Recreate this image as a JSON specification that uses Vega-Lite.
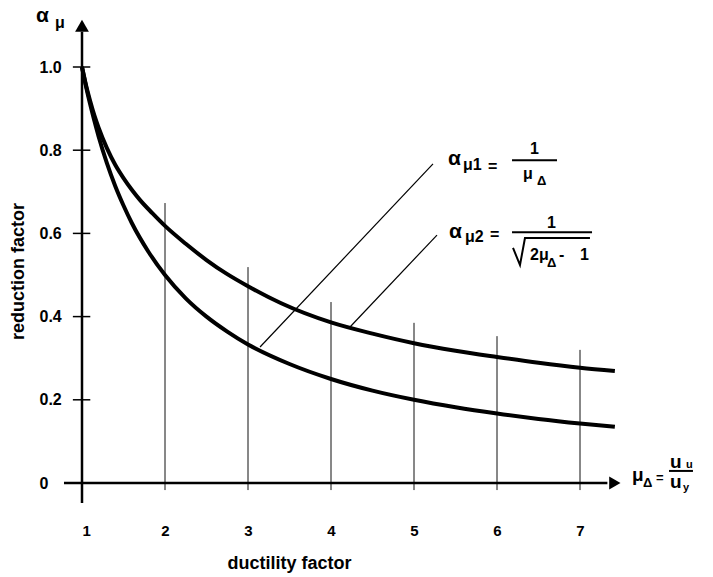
{
  "$schema": "https://vega.github.io/schema/vega-lite/v6.json",
  "width": 622.5,
  "height": 478.4,
  "autosize": {"type": "none"},
  "padding": {"left": 82, "top": 4.6, "right": 8.5, "bottom": 94},
  "background": "white",
  "config": {
    "view": {"stroke": null},
    "font": "Liberation Sans",
    "axis": {"domain": false, "grid": false, "ticks": false, "tickSize": 0, "labelColor": "black", "titleColor": "black"}
  },
  "datasets": {
    "curves": [
      {"s": "a1", "x": 1, "y": 1}, {"s": "a1", "x": 1.05, "y": 0.952}, {"s": "a1", "x": 1.1, "y": 0.909}, {"s": "a1", "x": 1.15, "y": 0.87},
      {"s": "a1", "x": 1.2, "y": 0.833}, {"s": "a1", "x": 1.3, "y": 0.769}, {"s": "a1", "x": 1.4, "y": 0.714}, {"s": "a1", "x": 1.5, "y": 0.667},
      {"s": "a1", "x": 1.6, "y": 0.625}, {"s": "a1", "x": 1.8, "y": 0.556}, {"s": "a1", "x": 2, "y": 0.5}, {"s": "a1", "x": 2.25, "y": 0.444},
      {"s": "a1", "x": 2.5, "y": 0.4}, {"s": "a1", "x": 2.75, "y": 0.364}, {"s": "a1", "x": 3, "y": 0.333}, {"s": "a1", "x": 3.5, "y": 0.286},
      {"s": "a1", "x": 4, "y": 0.25}, {"s": "a1", "x": 4.5, "y": 0.222}, {"s": "a1", "x": 5, "y": 0.2}, {"s": "a1", "x": 5.5, "y": 0.182},
      {"s": "a1", "x": 6, "y": 0.167}, {"s": "a1", "x": 6.5, "y": 0.154}, {"s": "a1", "x": 7, "y": 0.143}, {"s": "a1", "x": 7.42, "y": 0.135},
      {"s": "a2", "x": 1, "y": 1}, {"s": "a2", "x": 1.05, "y": 0.955}, {"s": "a2", "x": 1.1, "y": 0.917}, {"s": "a2", "x": 1.15, "y": 0.883},
      {"s": "a2", "x": 1.2, "y": 0.854}, {"s": "a2", "x": 1.3, "y": 0.805}, {"s": "a2", "x": 1.4, "y": 0.765}, {"s": "a2", "x": 1.5, "y": 0.733},
      {"s": "a2", "x": 1.6, "y": 0.705}, {"s": "a2", "x": 1.7, "y": 0.68}, {"s": "a2", "x": 1.85, "y": 0.648}, {"s": "a2", "x": 2, "y": 0.618},
      {"s": "a2", "x": 2.25, "y": 0.575}, {"s": "a2", "x": 2.5, "y": 0.536}, {"s": "a2", "x": 2.75, "y": 0.502}, {"s": "a2", "x": 3, "y": 0.473},
      {"s": "a2", "x": 3.4, "y": 0.432}, {"s": "a2", "x": 4, "y": 0.386}, {"s": "a2", "x": 4.5, "y": 0.359}, {"s": "a2", "x": 5, "y": 0.336},
      {"s": "a2", "x": 5.5, "y": 0.318}, {"s": "a2", "x": 6, "y": 0.303}, {"s": "a2", "x": 6.5, "y": 0.289}, {"s": "a2", "x": 7, "y": 0.277},
      {"s": "a2", "x": 7.42, "y": 0.269}
    ],
    "verticals": [
      {"x": 2, "y": -0.017, "y2": 0.673}, {"x": 3, "y": -0.017, "y2": 0.519}, {"x": 4, "y": -0.017, "y2": 0.435},
      {"x": 5, "y": -0.017, "y2": 0.385}, {"x": 6, "y": -0.017, "y2": 0.353}, {"x": 7, "y": -0.017, "y2": 0.32}
    ],
    "leaders": [
      {"x": 3.145, "y": 0.327, "x2": 5.229, "y2": 0.767},
      {"x": 4.229, "y": 0.375, "x2": 5.277, "y2": 0.596}
    ],
    "axislines": [
      {"x": 0.783, "y": 0, "x2": 7.33, "y2": 0},
      {"x": 1, "y": -0.048, "x2": 1, "y2": 1.085}
    ],
    "yticks": [
      {"x": 0.89, "x2": 1.1, "y": 0.2}, {"x": 0.89, "x2": 1.1, "y": 0.4}, {"x": 0.89, "x2": 1.1, "y": 0.6},
      {"x": 0.89, "x2": 1.1, "y": 0.8}, {"x": 0.89, "x2": 1.1, "y": 1.0}
    ],
    "arrowUp": [{"x": 1, "y": 1.099}],
    "arrowRight": [{"x": 7.42, "y": 0}],
    "bars": [
      {"x": 6.181, "x2": 6.723, "y": 0.776},
      {"x": 6.181, "x2": 7.145, "y": 0.603},
      {"x": 8.072, "x2": 8.361, "y": 0.029}
    ],
    "radical": [
      {"o": 1, "x": 6.193, "y": 0.565}, {"o": 2, "x": 6.277, "y": 0.524}, {"o": 3, "x": 6.337, "y": 0.589}, {"o": 4, "x": 7.12, "y": 0.589}
    ],
    "alpha": [
      {"x": 0.446, "y": 1.108, "text": "α"},
      {"x": 5.41, "y": 0.764, "text": "α"},
      {"x": 5.422, "y": 0.589, "text": "α"}
    ],
    "mid": [
      {"x": 0.675, "y": 1.094, "text": "μ"},
      {"x": 5.59, "y": 0.752, "text": "μ1"},
      {"x": 5.892, "y": 0.748, "text": "="},
      {"x": 6.398, "y": 0.791, "text": "1"},
      {"x": 6.313, "y": 0.731, "text": "μ"},
      {"x": 5.614, "y": 0.579, "text": "μ2"},
      {"x": 5.916, "y": 0.584, "text": "="},
      {"x": 6.602, "y": 0.613, "text": "1"},
      {"x": 6.398, "y": 0.536, "text": "2μ"},
      {"x": 6.747, "y": 0.536, "text": "-"},
      {"x": 7.0, "y": 0.536, "text": "1"}
    ],
    "small": [
      {"x": 6.482, "y": 0.716, "text": "Δ"},
      {"x": 6.602, "y": 0.519, "text": "Δ"},
      {"x": 7.759, "y": -0.0096, "text": "Δ"},
      {"x": 7.916, "y": 0.0024, "text": "="}
    ],
    "big": [
      {"x": 7.627, "y": 0.005, "text": "μ"},
      {"x": 8.084, "y": 0.036, "text": "u"},
      {"x": 8.084, "y": -0.012, "text": "u"}
    ],
    "tiny": [
      {"x": 8.277, "y": 0.036, "text": "u"},
      {"x": 8.241, "y": -0.019, "text": "y"}
    ]
  },
  "encoding": {
    "x": {
      "field": "x", "type": "quantitative",
      "scale": {"domain": [1, 8.5], "nice": false, "zero": false},
      "axis": {
        "values": [1, 2, 3, 4, 5, 6, 7], "format": "d",
        "labelFontSize": 15, "labelFontWeight": "bold", "labelBaseline": "alphabetic", "labelPadding": 52,
        "title": "ductility factor", "titleFontSize": 18, "titleFontWeight": "bold",
        "titleX": 207, "titleY": 85, "titleBaseline": "alphabetic", "titleAlign": "center"
      }
    },
    "y": {
      "field": "y", "type": "quantitative",
      "scale": {"domain": [0, 1.15], "nice": false, "zero": false},
      "axis": {
        "values": [0, 0.2, 0.4, 0.6, 0.8, 1.0],
        "labelExpr": "datum.value == 0 ? '0' : format(datum.value, '.1f')",
        "labelAlign": "left", "labelPadding": 43, "labelBaseline": "middle",
        "labelFontSize": 16, "labelFontWeight": "bold",
        "title": "reduction factor", "titleFontSize": 18, "titleFontWeight": "bold",
        "titleAngle": 270, "titleX": -63.5, "titleY": 266.4, "titleAlign": "center", "titleBaseline": "middle"
      }
    }
  },
  "layer": [
    {
      "data": {"name": "verticals"},
      "mark": {"type": "rule", "color": "#111", "strokeWidth": 1},
      "encoding": {"y2": {"field": "y2"}}
    },
    {
      "data": {"name": "leaders"},
      "mark": {"type": "rule", "color": "black", "strokeWidth": 1.2},
      "encoding": {"x2": {"field": "x2"}, "y2": {"field": "y2"}}
    },
    {
      "data": {"name": "axislines"},
      "mark": {"type": "rule", "color": "black", "strokeWidth": 2.5},
      "encoding": {"x2": {"field": "x2"}, "y2": {"field": "y2"}}
    },
    {
      "data": {"name": "yticks"},
      "mark": {"type": "rule", "color": "black", "strokeWidth": 1.5},
      "encoding": {"x2": {"field": "x2"}}
    },
    {
      "data": {"name": "arrowUp"},
      "mark": {"type": "point", "shape": "triangle-up", "filled": true, "color": "black", "size": 190, "opacity": 1}
    },
    {
      "data": {"name": "arrowRight"},
      "mark": {"type": "point", "shape": "triangle-right", "filled": true, "color": "black", "size": 170, "opacity": 1}
    },
    {
      "data": {"name": "curves"},
      "mark": {"type": "line", "color": "black", "strokeWidth": 4, "interpolate": "monotone"},
      "encoding": {"detail": {"field": "s"}}
    },
    {
      "data": {"name": "bars"},
      "mark": {"type": "rule", "color": "black", "strokeWidth": 2},
      "encoding": {"x2": {"field": "x2"}}
    },
    {
      "data": {"name": "radical"},
      "mark": {"type": "line", "color": "black", "strokeWidth": 2},
      "encoding": {"order": {"field": "o"}}
    },
    {
      "data": {"name": "alpha"},
      "mark": {"type": "text", "align": "left", "baseline": "alphabetic", "fontSize": 21, "fontWeight": "bold", "color": "black"},
      "encoding": {"text": {"field": "text"}}
    },
    {
      "data": {"name": "mid"},
      "mark": {"type": "text", "align": "left", "baseline": "alphabetic", "fontSize": 16, "fontWeight": "bold", "color": "black"},
      "encoding": {"text": {"field": "text"}}
    },
    {
      "data": {"name": "small"},
      "mark": {"type": "text", "align": "left", "baseline": "alphabetic", "fontSize": 13, "fontWeight": "bold", "color": "black"},
      "encoding": {"text": {"field": "text"}}
    },
    {
      "data": {"name": "big"},
      "mark": {"type": "text", "align": "left", "baseline": "alphabetic", "fontSize": 19, "fontWeight": "bold", "color": "black"},
      "encoding": {"text": {"field": "text"}}
    },
    {
      "data": {"name": "tiny"},
      "mark": {"type": "text", "align": "left", "baseline": "alphabetic", "fontSize": 11, "fontWeight": "bold", "color": "black"},
      "encoding": {"text": {"field": "text"}}
    }
  ]
}
